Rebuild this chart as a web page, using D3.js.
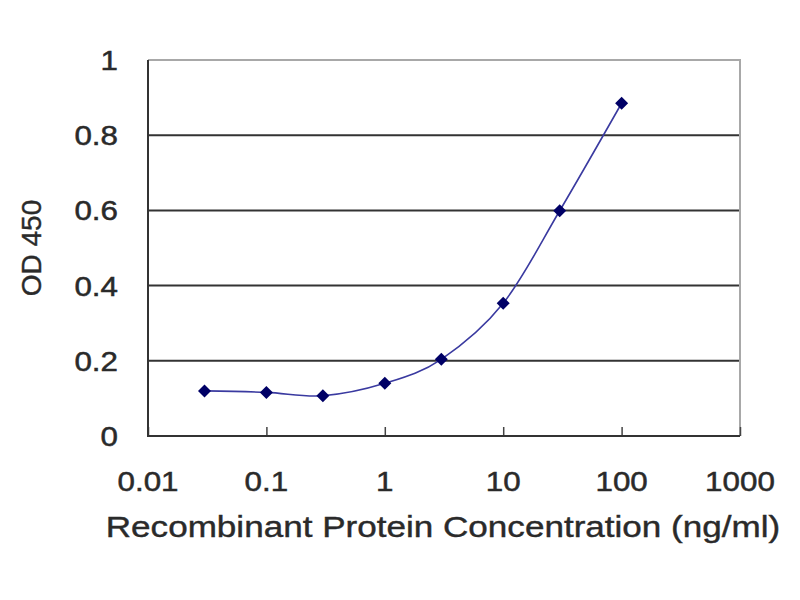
<!DOCTYPE html>
<html><head><meta charset="utf-8">
<script src="https://cdn.jsdelivr.net/npm/d3@7"></script>
<style>html,body{margin:0;padding:0;background:#fff}</style>
</head><body>
<svg id="c" width="800" height="600"></svg>
<script>
const concentrations = [0.03, 0.1, 0.3, 1, 3, 10, 30, 100];
const odValues = [0.120, 0.116, 0.107, 0.140, 0.204, 0.353, 0.599, 0.885];
const xTicks = [0.01, 0.1, 1, 10, 100, 1000];
const xTickLabels = ["0.01", "0.1", "1", "10", "100", "1000"];
const yTicks = [0, 0.2, 0.4, 0.6, 0.8, 1];
const yTickLabels = ["0", "0.2", "0.4", "0.6", "0.8", "1"];
const xTitle = "Recombinant Protein Concentration (ng/ml)";
const yTitle = "OD 450";

const L = 148, R = 740, T = 60, B = 436;
const svg = d3.select("#c");
const x = d3.scaleLog().domain([0.01, 1000]).range([L, R]);
const y = d3.scaleLinear().domain([0, 1]).range([B, T]);
const font = "'Liberation Sans', Arial, sans-serif";
const txt = "#2a2a2a";

// gridlines
svg.append("g").selectAll("line").data(yTicks.filter(d => d > 0 && d < 1)).join("line")
  .attr("x1", L).attr("x2", R).attr("y1", d => y(d)).attr("y2", d => y(d))
  .attr("stroke", "#333").attr("stroke-width", 2);

// border: top & right gray
svg.append("path").attr("d", `M${L},${T}H${R}V${B}`).attr("fill", "none")
  .attr("stroke", "#a8a8a8").attr("stroke-width", 2);

// x axis
const xAxis = d3.axisBottom(x).tickValues(xTicks).tickSize(-9).tickFormat("");
const gx = svg.append("g").attr("transform", `translate(0,${B})`).call(xAxis);
gx.select(".domain").remove();
gx.selectAll(".tick line").attr("stroke", "#444").attr("stroke-width", 1.5);
// y axis
const yAxis = d3.axisLeft(y).tickValues(yTicks).tickSize(0).tickFormat("");
const gy = svg.append("g").attr("transform", `translate(${L},0)`).call(yAxis);
gy.select(".domain").remove();

svg.append("path").attr("d", `M${L},${T}V${B}H${R}`).attr("fill", "none")
  .attr("stroke", "#333").attr("stroke-width", 2);

// tick labels
svg.append("g").selectAll("text").data(xTicks).join("text")
  .attr("transform", (d) => `translate(${x(d)},491) scale(1.12,1)`)
  .attr("text-anchor", "middle").attr("font-family", font).attr("font-size", 28)
  .attr("fill", txt).attr("stroke", txt).attr("stroke-width", 0.5)
  .text((d, i) => xTickLabels[i]);

svg.append("g").selectAll("text").data(yTicks).join("text")
  .attr("transform", d => `translate(118,${y(d) + 10}) scale(1.12,1)`)
  .attr("text-anchor", "end").attr("font-family", font).attr("font-size", 28)
  .attr("fill", txt).attr("stroke", txt).attr("stroke-width", 0.5)
  .text((d, i) => yTickLabels[i]);

// titles
svg.append("text").attr("transform", "translate(443,537) scale(1.21,1)")
  .attr("text-anchor", "middle").attr("font-family", font).attr("font-size", 29)
  .attr("fill", txt).attr("stroke", txt).attr("stroke-width", 0.4).text(xTitle);
svg.append("text").attr("transform", "translate(41,248) rotate(-90)")
  .attr("text-anchor", "middle").attr("font-family", font).attr("font-size", 28)
  .attr("fill", txt).attr("stroke", txt).attr("stroke-width", 0.4).text(yTitle);

// line
const pts = concentrations.map((c, i) => [x(c), y(odValues[i])]);
svg.append("path").datum(pts)
  .attr("d", d3.line().curve(d3.curveCardinal.tension(0)))
  .attr("fill", "none").attr("stroke", "#3a3aa0").attr("stroke-width", 1.6);

// markers
svg.append("g").selectAll("path").data(concentrations).join("path")
  .attr("transform", (c, i) => `translate(${x(c)},${y(odValues[i])})`)
  .attr("d", "M0,-6.5L6.5,0L0,6.5L-6.5,0Z")
  .attr("fill", "#000066");
</script>
</body></html>
